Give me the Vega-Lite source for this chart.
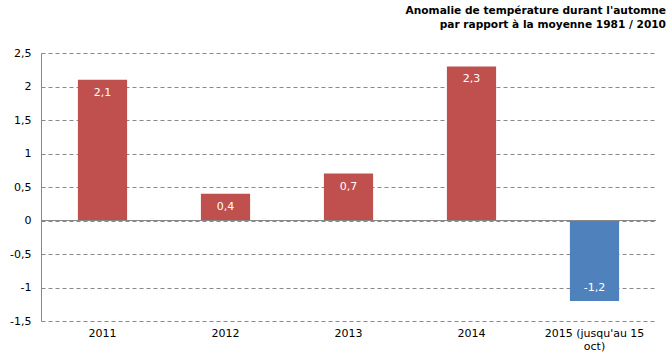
{
  "$schema": "https://vega.github.io/schema/vega-lite/v6.json",
  "autosize": {"type": "none"},
  "width": 615,
  "height": 268,
  "padding": {"left": 41, "top": 53, "right": 16, "bottom": 43},
  "background": "white",
  "config": {
    "view": {"stroke": null},
    "font": "DejaVu Sans",
    "locale": {
      "number": {
        "decimal": ",",
        "thousands": " ",
        "grouping": [3],
        "currency": ["", " €"],
        "minus": "-"
      }
    }
  },
  "title": {
    "text": ["Anomalie de température durant l'automne", "par rapport à la moyenne 1981 / 2010"],
    "anchor": "end",
    "frame": "group",
    "align": "right",
    "dx": 10,
    "offset": 16,
    "fontSize": 10.6,
    "fontWeight": "bold",
    "font": "DejaVu Sans",
    "color": "#000000",
    "lineHeight": 14
  },
  "data": {
    "values": [
      {"annee": "2011", "anomalie": 2.1},
      {"annee": "2012", "anomalie": 0.4},
      {"annee": "2013", "anomalie": 0.7},
      {"annee": "2014", "anomalie": 2.3},
      {"annee": "2015 (jusqu'au 15 oct)", "anomalie": -1.2}
    ]
  },
  "encoding": {
    "x": {
      "field": "annee",
      "type": "nominal",
      "sort": null,
      "scale": {"paddingInner": 0.6, "paddingOuter": 0.3},
      "axis": {
        "title": null,
        "labelAngle": 0,
        "domain": false,
        "ticks": false,
        "labelPadding": 6,
        "labelFontSize": 11,
        "labelColor": "#000000",
        "labelFont": "DejaVu Sans",
        "labelLineHeight": 13,
        "labelExpr": "split(replace(datum.label, '15 oct', '15|oct'), '|')"
      }
    },
    "y": {
      "field": "anomalie",
      "type": "quantitative",
      "scale": {"domain": [-1.5, 2.5], "nice": false, "zero": false},
      "axis": {
        "title": null,
        "values": [-1.5, -1, -0.5, 0, 0.5, 1, 1.5, 2, 2.5],
        "domainColor": "#888888",
        "ticks": false,
        "labelPadding": 10,
        "labelFontSize": 11,
        "labelColor": "#000000",
        "labelFont": "DejaVu Sans",
        "gridColor": "#888888",
        "gridDash": [4, 3],
        "format": "~g"
      }
    }
  },
  "layer": [
    {
      "mark": {"type": "bar"},
      "encoding": {
        "y2": {"datum": 0},
        "color": {
          "condition": {"test": "datum.anomalie < 0", "value": "#4F81BD"},
          "value": "#C0504D"
        }
      }
    },
    {
      "mark": {"type": "rule", "color": "#888888", "strokeWidth": 1},
      "encoding": {
        "y": {"datum": 0},
        "x": {"value": 0},
        "x2": {"value": 615}
      }
    },
    {
      "transform": [{"filter": "datum.anomalie >= 0"}],
      "mark": {"type": "text", "color": "white", "fontSize": 11, "dy": 13, "font": "DejaVu Sans"},
      "encoding": {
        "text": {"field": "anomalie", "type": "quantitative", "format": ".1f"}
      }
    },
    {
      "transform": [{"filter": "datum.anomalie < 0"}],
      "mark": {"type": "text", "color": "white", "fontSize": 11, "dy": -13, "font": "DejaVu Sans"},
      "encoding": {
        "text": {"field": "anomalie", "type": "quantitative", "format": ".1f"}
      }
    }
  ]
}
